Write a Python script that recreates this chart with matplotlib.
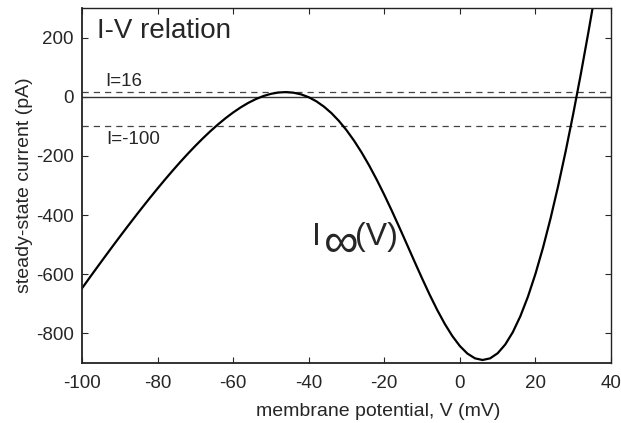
import matplotlib
matplotlib.use("Agg")
import matplotlib.pyplot as plt

# membrane potential (mV)
voltage = [-100, -98, -96, -94, -92, -90, -88, -86, -84, -82, -80, -78, -76, -74, -72,
           -70, -68, -66, -64, -62, -60, -58, -56, -54, -52, -50, -48, -46, -44, -42,
           -40, -38, -36, -34, -32, -30, -28, -26, -24, -22, -20, -18, -16, -14, -12,
           -10, -8, -6, -4, -2, 0, 2, 4, 6, 8, 10, 12, 14, 16, 18,
           20, 22, 24, 26, 28, 30, 32, 34, 36]
# steady-state current I_inf(V) (pA)
current = [-647.8, -612.2, -577.0, -542.1, -507.5, -473.3, -439.6, -406.4, -373.7, -341.6,
           -310.2, -279.5, -249.7, -220.7, -192.8, -166.0, -140.4, -116.2, -93.5, -72.4,
           -53.2, -35.9, -20.7, -7.9, 2.4, 9.9, 14.4, 15.8, 13.7, 8.0,
           -1.6, -15.2, -33.1, -55.2, -81.9, -113.0, -148.6, -188.5, -232.6, -280.5,
           -331.8, -385.9, -442.1, -499.6, -557.4, -614.3, -669.3, -720.9, -768.0, -809.1,
           -843.0, -868.5, -884.5, -890.1, -884.5, -867.2, -837.7, -796.0, -742.0, -676.1,
           -598.5, -509.8, -410.7, -301.6, -183.5, -57.0, 77.1, 218.1, 365.3]
# injected current levels (pA)
levels = [16, -100]
level_labels = ["I=16", "I=-100"]

xticks = [-100, -80, -60, -40, -20, 0, 20, 40]
yticks = [-800, -600, -400, -200, 0, 200]

plt.rcParams['font.family'] = ['Liberation Sans', 'DejaVu Sans']
plt.rcParams['axes.unicode_minus'] = False

txt = '#262626'
W, H = 621, 423
fig = plt.figure(figsize=(W / 100, H / 100), dpi=100)
ax = fig.add_axes([0.132, 0.142, 0.852, 0.839])

ax.axhline(0, color='#333333', lw=1.0)
for lv in levels:
    ax.axhline(lv, color='#444444', lw=0.9, ls=(0, (5, 4)))
ax.plot(voltage, current, color='black', lw=1.6, clip_on=True)

ax.set_xlim(-100, 40)
ax.set_ylim(-900, 300)
ax.set_xticks(xticks)
ax.set_yticks(yticks)
ax.tick_params(direction='in', length=4, width=0.8, top=True, right=True,
               labelsize=13.5, colors=txt, pad=6)
ax.tick_params(axis='x', pad=9)
for s in ax.spines.values():
    s.set_color('#222222')
    s.set_linewidth(1.0)
ax.spines['left'].set_linewidth(1.3)
ax.spines['bottom'].set_linewidth(1.3)

ax.set_xlabel('membrane potential, V (mV)', fontsize=14, color=txt, labelpad=5)
ax.xaxis.set_label_coords(0.56, -0.112)
ax.xaxis.label.set_va('top')
ax.set_ylabel('steady-state current (pA)', fontsize=14, color=txt, labelpad=2)

ax.text(-96, 197, 'I-V relation', fontsize=20, color=txt, va='baseline')
ax.text(-93.9, 37, level_labels[0], fontsize=13.5, color=txt, va='baseline')
ax.text(-93.5, -159, level_labels[1], fontsize=13.5, color=txt, va='baseline')

# I_inf(V) label, built from three pieces placed in figure pixels
def fpos(px, py):
    return px / W, 1 - py / H
fig.text(*fpos(312, 245), 'I', fontsize=23, color=txt, va='baseline')
fig.text(*fpos(341, 239), '\u221e', fontsize=35, color=txt, ha='center',
         va='center_baseline', family=['Liberation Sans', 'DejaVu Sans'])
fig.text(*fpos(355, 245), '(V)', fontsize=23, color=txt, va='baseline')

fig.savefig('out.png', dpi=100)
